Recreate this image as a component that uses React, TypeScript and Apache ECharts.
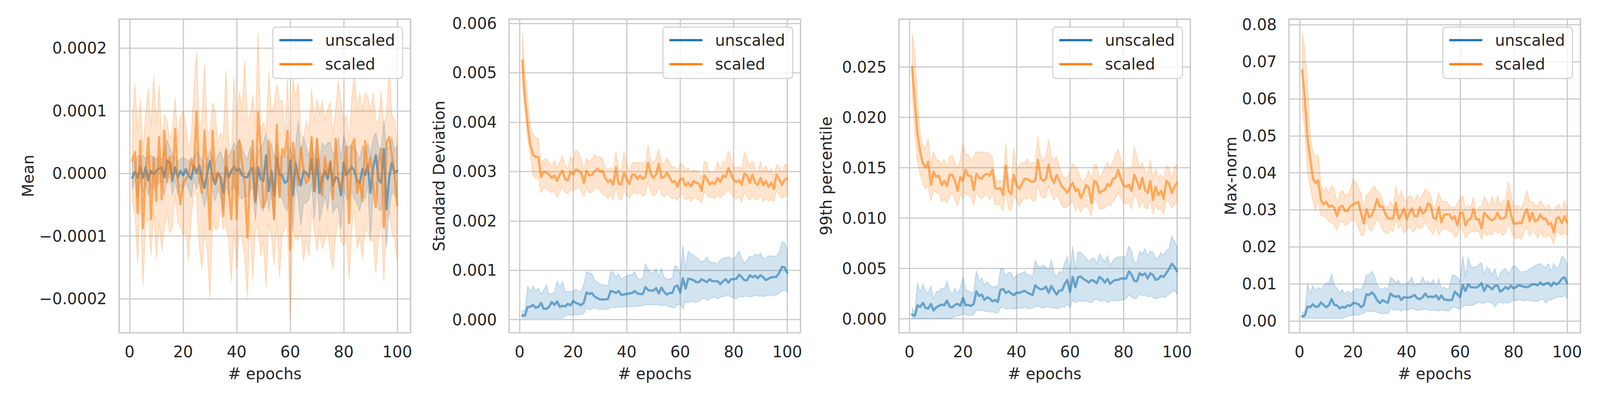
import React, { useEffect, useRef } from "react";
import * as echarts from "echarts";

// ---------- data (x = epoch 1..100) ----------
const epochs: number[] = Array.from({ length: 100 }, (_, i) => i + 1);

// Panel 1: Mean (values in 1e-6)
const meanUnscaledAvg = [
  -7, 3, -7, 10, -7, 10, -11, 4, -1, 4,
  8, 9, -6, 21, 17, -12, 10, -6, 4, -3,
  7, -3, -9, 13, 1, 13, -9, -23, 1, 20,
  -6, -17, 1, -6, -31, 10, -6, 4, 10, 4,
  8, -3, -6, -6, 4, 9, -44, 10, -9, -12,
  29, -28, 4, -35, 26, -3, -3, -15, -12, 21,
  -35, 17, -3, -19, 4, 1, -6, 23, -28, 23,
  -31, -6, 4, -9, 17, -19, -6, -9, -35, 17,
  -3, 4, 10, 4, -12, -15, 7, -3, 13, -31,
  10, 29, -9, -15, 39, -57, -6, 17, 1, 4,
];
const meanUnscaledHi = [
  23, 17, 29, 26, 29, 23, 26, 29, 23, 23,
  26, 23, 36, 53, 42, 29, 26, 17, 23, 26,
  23, 20, 17, 26, 36, 29, 23, 10, 23, 36,
  23, 17, 29, 36, 17, 42, 26, 36, 49, 42,
  55, 42, 29, 23, 42, 36, 1, 36, 42, 49,
  65, 29, 49, 23, 49, 29, 26, 29, 26, 42,
  23, 42, 85, 29, 58, 42, 29, 52, 23, 55,
  17, 49, 42, 49, 49, 29, 39, 58, 23, 61,
  45, 42, 45, 42, 33, 23, 45, 29, 49, 29,
  55, 65, 42, 39, 84, 39, 42, 58, 36, 45,
];
const meanUnscaledLo = [
  -25, -9, -41, -9, -31, -15, -35, -19, -25, -19,
  -15, -12, -35, -9, -6, -35, -12, -35, -19, -25,
  -15, -25, -38, -9, -25, -9, -35, -54, -28, -6,
  -31, -44, -25, -38, -60, -19, -35, -25, -22, -28,
  -35, -41, -35, -38, -28, -22, -76, -19, -54, -60,
  -9, -60, -31, -73, -9, -35, -41, -54, -60, -19,
  -92, -15, -41, -83, -47, -47, -41, -15, -73, -12,
  -76, -54, -35, -60, -19, -63, -54, -54, -89, -22,
  -41, -41, -28, -41, -47, -60, -35, -41, -19, -105,
  -35, -15, -57, -60, -19, -118, -60, -28, -35, -41,
];
const meanScaledAvg = [
  21, 34, -63, 52, -87, 1, 57, -73, 26, -44,
  58, -41, 68, -14, 26, -9, 71, -12, -49, -15,
  -9, -3, 23, 4, 98, -7, -31, 68, -3, -89,
  68, -15, 1, -9, -68, 36, -25, -73, 36, -73,
  52, 17, -15, -102, -3, 52, -47, 97, 39, -54,
  -41, 52, -15, -73, 77, -38, 39, 29, 68, -121,
  49, 13, -19, 42, 4, -15, -9, 58, -28, 55,
  4, -35, 26, -3, 20, -41, 55, -12, -25, -3,
  42, -79, 45, 55, -31, -12, -44, 52, 4, 26,
  -19, -54, 17, 39, -86, 49, 58, 29, -3, -51,
];
const meanScaledHi = [
  90, 143, 68, 119, 36, 97, 135, 74, 156, 81,
  142, 55, 94, 84, 55, 68, 122, 52, 90, 100,
  77, 39, 58, 135, 194, 73, 87, 174, 68, 65,
  113, 97, 49, 65, 55, 164, 55, 23, 154, 84,
  130, 103, 180, 84, 90, 126, 74, 225, 71, 81,
  65, 164, 97, 110, 142, 116, 117, 61, 154, 23,
  153, 122, 145, 61, 58, 84, 68, 135, 81, 119,
  94, 116, 84, 103, 113, 61, 103, 148, 113, 84,
  94, 55, 119, 164, 97, 129, 100, 129, 122, 100,
  129, 84, 81, 132, 74, 94, 167, 94, 87, 45,
];
const meanScaledLo = [
  -44, -67, -143, -41, -179, -79, -73, -131, -57, -137,
  -79, -124, -89, -60, -95, -86, -35, -79, -83, -99,
  -92, -140, -73, -28, -35, -115, -153, -92, -121, -201,
  -76, -89, -89, -54, -89, -83, -105, -172, -89, -153,
  -89, -105, -131, -198, -76, -169, -89, -89, -131, -108,
  -182, -79, -99, -147, -76, -166, -99, -86, -86, -233,
  -89, -105, -105, -92, -140, -108, -131, -60, -89, -124,
  -92, -121, -105, -89, -131, -153, -99, -73, -108, -115,
  -99, -169, -89, -57, -121, -102, -137, -89, -92, -108,
  -105, -159, -108, -73, -172, -73, -60, -95, -105, -140,
];

// Panel 2: Standard Deviation (values in 1e-3)
const stdUnscaledAvg = [
  0.085, 0.085, 0.26, 0.26, 0.30, 0.24, 0.26, 0.34, 0.22, 0.22,
  0.26, 0.36, 0.30, 0.37, 0.26, 0.28, 0.27, 0.32, 0.29, 0.38,
  0.34, 0.32, 0.29, 0.35, 0.55, 0.52, 0.54, 0.47, 0.44, 0.41,
  0.41, 0.41, 0.42, 0.58, 0.57, 0.54, 0.58, 0.50, 0.51, 0.52,
  0.53, 0.54, 0.58, 0.53, 0.52, 0.52, 0.66, 0.60, 0.59, 0.59,
  0.64, 0.53, 0.65, 0.56, 0.51, 0.54, 0.54, 0.67, 0.69, 0.55,
  0.84, 0.63, 0.83, 0.82, 0.80, 0.76, 0.76, 0.82, 0.79, 0.76,
  0.82, 0.78, 0.78, 0.78, 0.72, 0.78, 0.82, 0.75, 0.82, 0.82,
  0.83, 0.91, 0.86, 0.80, 0.80, 0.90, 0.86, 0.89, 0.84, 0.90,
  0.86, 0.80, 0.83, 0.86, 0.86, 0.87, 0.95, 1.07, 1.06, 0.95,
];
const stdUnscaledHi = [
  0.19, 0.17, 0.68, 0.56, 0.68, 0.58, 0.64, 0.52, 0.60, 0.71,
  0.52, 0.53, 0.55, 0.78, 0.66, 0.78, 0.57, 0.57, 0.57, 0.58,
  0.62, 0.57, 0.57, 0.73, 0.97, 0.95, 0.93, 0.80, 0.76, 0.72,
  0.70, 0.70, 0.69, 0.97, 0.96, 0.86, 0.93, 0.82, 0.86, 0.88,
  0.91, 0.91, 0.97, 0.84, 0.82, 0.84, 1.13, 1.03, 0.95, 0.95,
  1.03, 0.86, 1.05, 0.86, 0.82, 0.82, 0.84, 1.09, 1.07, 0.91,
  1.49, 1.03, 1.39, 1.33, 1.31, 1.27, 1.22, 1.17, 1.20, 1.27,
  1.17, 1.16, 1.15, 1.13, 1.21, 1.25, 1.26, 1.27, 1.25, 1.23,
  1.30, 1.39, 1.23, 1.15, 1.20, 1.29, 1.27, 1.33, 1.29, 1.35,
  1.23, 1.25, 1.29, 1.29, 1.28, 1.29, 1.37, 1.58, 1.56, 1.40,
];
const stdUnscaledLo = [
  0.03, 0.03, 0.03, 0.03, 0.03, 0.03, 0.03, 0.03, 0.03, 0.03,
  0.03, 0.03, 0.03, 0.03, 0.03, 0.03, 0.07, 0.10, 0.09, 0.10,
  0.10, 0.10, 0.11, 0.13, 0.24, 0.20, 0.22, 0.24, 0.22, 0.21,
  0.21, 0.21, 0.21, 0.25, 0.24, 0.25, 0.26, 0.25, 0.26, 0.26,
  0.27, 0.26, 0.27, 0.28, 0.27, 0.29, 0.30, 0.31, 0.30, 0.30,
  0.31, 0.30, 0.28, 0.30, 0.28, 0.26, 0.24, 0.24, 0.30, 0.32,
  0.22, 0.37, 0.34, 0.38, 0.36, 0.36, 0.37, 0.42, 0.44, 0.39,
  0.42, 0.44, 0.46, 0.42, 0.45, 0.47, 0.48, 0.50, 0.46, 0.44,
  0.42, 0.47, 0.46, 0.47, 0.48, 0.46, 0.47, 0.50, 0.48, 0.48,
  0.47, 0.48, 0.50, 0.48, 0.50, 0.50, 0.54, 0.58, 0.60, 0.56,
];
const stdScaledAvg = [
  5.25, 4.48, 3.95, 3.54, 3.34, 3.30, 3.29, 2.89, 3.00, 2.98,
  2.94, 2.87, 2.92, 2.81, 2.94, 3.02, 2.85, 2.82, 3.00, 2.94,
  3.04, 3.02, 2.98, 2.77, 3.02, 2.92, 2.93, 3.00, 3.06, 3.00,
  3.02, 2.87, 2.79, 2.83, 2.73, 3.08, 2.75, 2.74, 2.98, 2.85,
  2.75, 2.94, 2.94, 2.85, 2.92, 2.85, 2.89, 3.18, 2.96, 2.87,
  2.94, 3.16, 2.87, 2.89, 2.98, 2.89, 2.79, 2.81, 2.69, 2.85,
  2.86, 2.71, 2.78, 2.70, 2.81, 2.77, 2.75, 2.61, 2.92, 2.85,
  2.74, 2.78, 2.75, 2.87, 2.79, 2.92, 2.89, 3.07, 2.96, 2.82,
  2.79, 2.82, 2.73, 2.96, 2.92, 2.77, 2.94, 2.77, 2.73, 2.87,
  2.72, 2.81, 2.69, 2.77, 2.65, 2.94, 2.85, 2.73, 2.83, 2.86,
];
const stdScaledHi = [
  5.80, 5.05, 4.48, 3.91, 3.75, 3.69, 3.67, 3.14, 3.24, 3.26,
  3.18, 3.10, 3.24, 3.07, 3.19, 3.32, 3.14, 3.05, 3.31, 3.22,
  3.44, 3.38, 3.26, 3.04, 3.28, 3.18, 3.26, 3.35, 3.30, 3.30,
  3.26, 3.08, 3.04, 3.08, 3.02, 3.40, 3.07, 3.00, 3.40, 3.16,
  3.02, 3.18, 3.18, 3.19, 3.18, 3.17, 3.18, 3.54, 3.22, 3.18,
  3.26, 3.46, 3.20, 3.14, 3.28, 3.18, 3.08, 3.10, 3.00, 3.16,
  3.14, 3.02, 3.08, 2.98, 3.04, 3.02, 3.01, 2.85, 3.21, 3.18,
  2.98, 3.00, 2.98, 3.21, 3.05, 3.20, 3.20, 3.42, 3.26, 3.08,
  3.08, 3.10, 3.04, 3.39, 3.26, 3.12, 3.21, 3.08, 2.98, 3.20,
  2.98, 3.12, 2.98, 3.06, 2.92, 3.14, 3.10, 2.96, 3.14, 3.16,
];
const stdScaledLo = [
  4.76, 4.28, 3.67, 3.34, 2.94, 2.85, 2.89, 2.57, 2.67, 2.65,
  2.61, 2.57, 2.61, 2.47, 2.59, 2.69, 2.57, 2.55, 2.65, 2.61,
  2.65, 2.67, 2.61, 2.49, 2.67, 2.58, 2.57, 2.65, 2.67, 2.63,
  2.53, 2.51, 2.45, 2.53, 2.43, 2.69, 2.45, 2.43, 2.61, 2.53,
  2.45, 2.57, 2.57, 2.53, 2.59, 2.49, 2.53, 2.79, 2.59, 2.51,
  2.55, 2.69, 2.53, 2.49, 2.55, 2.51, 2.45, 2.47, 2.41, 2.53,
  2.55, 2.41, 2.47, 2.40, 2.47, 2.45, 2.43, 2.35, 2.59, 2.53,
  2.47, 2.49, 2.45, 2.53, 2.47, 2.51, 2.57, 2.65, 2.55, 2.47,
  2.45, 2.49, 2.37, 2.59, 2.49, 2.41, 2.51, 2.43, 2.43, 2.53,
  2.39, 2.45, 2.41, 2.43, 2.39, 2.61, 2.53, 2.45, 2.49, 2.51,
];

// Panel 3: 99th percentile (values in 1e-3)
const p99UnscaledAvg = [
  0.44, 0.30, 1.35, 1.19, 1.59, 1.09, 1.03, 1.49, 0.83, 1.15,
  1.29, 1.43, 1.35, 1.83, 1.23, 1.15, 1.39, 1.49, 1.29, 2.08,
  1.35, 1.39, 1.29, 1.49, 2.74, 2.28, 2.42, 1.88, 2.14, 2.02,
  1.75, 1.88, 1.69, 2.88, 2.98, 2.58, 2.74, 2.54, 2.34, 2.62,
  2.58, 2.68, 2.78, 2.62, 2.48, 2.38, 3.33, 3.08, 2.94, 2.98,
  3.21, 2.58, 3.27, 2.82, 2.42, 2.82, 2.82, 3.47, 3.87, 2.68,
  4.17, 3.13, 4.13, 4.21, 3.97, 3.81, 3.61, 3.87, 3.77, 3.53,
  4.17, 3.97, 3.61, 3.97, 3.47, 3.73, 3.87, 3.87, 4.01, 4.01,
  4.01, 4.72, 4.40, 3.77, 3.73, 4.52, 4.33, 4.52, 4.01, 4.52,
  4.37, 3.87, 3.97, 4.27, 4.17, 4.56, 4.96, 5.46, 5.20, 4.72,
];
const p99UnscaledHi = [
  1.09, 0.60, 3.57, 2.62, 3.47, 2.78, 2.58, 3.27, 1.98, 2.68,
  2.74, 3.08, 2.98, 3.77, 2.78, 2.42, 3.08, 2.54, 3.08, 4.17,
  2.88, 2.78, 2.54, 2.68, 4.76, 3.77, 4.07, 3.37, 3.67, 3.37,
  3.13, 3.27, 3.17, 4.96, 5.00, 4.27, 4.60, 4.60, 3.97, 4.33,
  4.46, 4.52, 4.72, 4.33, 4.40, 4.07, 5.85, 5.26, 5.16, 5.36,
  5.16, 4.76, 5.85, 4.60, 4.17, 4.72, 4.60, 5.52, 6.19, 4.56,
  7.18, 4.86, 6.65, 6.59, 6.31, 6.05, 5.65, 5.99, 6.05, 5.46,
  6.45, 6.05, 5.65, 6.31, 5.32, 5.75, 6.05, 6.15, 6.15, 6.15,
  6.25, 7.24, 6.75, 5.60, 5.56, 6.71, 6.45, 6.98, 6.25, 6.75,
  6.65, 5.95, 6.11, 6.59, 6.25, 6.79, 6.94, 8.23, 7.74, 7.14,
];
const p99UnscaledLo = [
  0.10, 0.04, 0.04, 0.04, 0.04, 0.04, 0.04, 0.04, 0.04, 0.04,
  0.04, 0.04, 0.04, 0.04, 0.04, 0.10, 0.24, 0.30, 0.36, 0.50,
  0.44, 0.30, 0.36, 0.44, 0.89, 0.79, 0.89, 0.75, 0.79, 0.69,
  0.69, 0.63, 0.60, 1.09, 1.19, 0.99, 1.03, 1.03, 0.95, 1.09,
  1.09, 1.03, 1.19, 1.03, 1.03, 1.09, 1.19, 1.29, 1.15, 1.09,
  1.19, 1.19, 1.09, 1.09, 1.03, 1.09, 1.19, 1.19, 1.49, 1.09,
  1.88, 1.59, 1.79, 1.79, 1.75, 1.75, 1.69, 1.59, 1.88, 1.98,
  1.79, 1.79, 1.88, 1.59, 1.79, 1.83, 1.79, 1.83, 1.88, 1.88,
  2.02, 2.38, 2.18, 1.98, 2.08, 2.48, 2.28, 2.38, 2.18, 2.28,
  2.14, 1.98, 2.08, 2.18, 2.14, 2.22, 2.42, 2.68, 2.88, 2.42,
];
const p99ScaledAvg = [
  25.0, 21.6, 18.3, 16.6, 15.5, 15.0, 15.6, 13.3, 14.6, 14.1,
  14.2, 13.3, 13.7, 13.2, 14.3, 14.3, 13.7, 12.7, 14.1, 13.7,
  14.8, 14.2, 14.2, 12.8, 14.4, 14.0, 13.9, 14.3, 14.4, 14.2,
  14.8, 13.0, 12.9, 13.0, 12.3, 15.2, 12.7, 12.4, 14.3, 13.3,
  12.9, 13.4, 13.9, 13.9, 13.7, 13.6, 13.7, 15.8, 14.0, 13.7,
  13.9, 15.3, 14.0, 13.5, 14.3, 13.7, 13.1, 12.9, 12.5, 13.1,
  13.5, 12.7, 12.9, 12.0, 12.5, 13.3, 13.0, 11.5, 13.7, 13.5,
  12.5, 12.7, 12.8, 13.4, 13.2, 13.9, 14.0, 14.8, 13.9, 13.3,
  13.1, 13.3, 12.7, 14.3, 13.7, 12.9, 14.0, 12.8, 12.5, 13.7,
  11.8, 13.1, 12.3, 12.7, 11.9, 13.7, 13.4, 12.5, 13.1, 13.5,
];
const p99ScaledHi = [
  28.3, 26.4, 22.0, 18.3, 17.2, 16.9, 17.9, 15.3, 16.6, 15.9,
  15.7, 15.4, 15.8, 15.0, 16.1, 16.2, 15.5, 14.9, 15.8, 17.4,
  16.3, 16.3, 15.7, 16.1, 16.6, 16.5, 16.6, 16.5, 16.5, 16.4,
  16.0, 13.9, 13.7, 13.8, 13.6, 17.4, 14.0, 13.7, 17.0, 14.7,
  15.2, 15.5, 15.5, 15.9, 15.4, 15.5, 15.5, 18.1, 16.1, 15.7,
  16.1, 17.8, 16.1, 15.8, 16.1, 15.1, 14.4, 13.9, 14.1, 14.7,
  15.4, 15.1, 14.7, 13.9, 13.6, 14.1, 14.7, 13.7, 15.3, 15.3,
  13.9, 14.5, 15.0, 15.6, 14.9, 15.6, 16.3, 16.8, 15.9, 15.1,
  14.8, 15.1, 14.7, 17.1, 16.1, 14.9, 15.6, 14.6, 14.4, 15.8,
  13.9, 14.9, 14.1, 14.3, 13.9, 15.2, 15.0, 13.9, 15.1, 15.3,
];
const p99ScaledLo = [
  22.5, 18.5, 15.5, 14.3, 13.5, 12.9, 13.2, 11.7, 12.8, 12.5,
  12.5, 11.6, 11.9, 11.5, 12.2, 12.5, 11.8, 11.2, 12.4, 11.9,
  12.5, 12.2, 12.2, 11.2, 12.5, 12.1, 11.9, 12.3, 12.3, 11.8,
  12.4, 11.4, 11.3, 11.3, 10.7, 12.7, 10.9, 10.8, 12.3, 11.8,
  11.2, 11.6, 12.0, 11.9, 12.1, 11.7, 11.7, 13.4, 12.2, 12.0,
  12.1, 13.2, 12.3, 11.8, 12.3, 11.8, 11.2, 11.0, 11.1, 11.4,
  11.8, 10.7, 11.2, 10.6, 11.0, 11.3, 10.9, 10.2, 11.9, 11.7,
  10.9, 10.9, 11.0, 11.4, 11.2, 11.7, 12.0, 12.5, 12.0, 11.5,
  11.4, 11.5, 10.9, 12.3, 11.9, 11.0, 11.9, 11.0, 10.9, 11.7,
  10.4, 11.3, 10.8, 11.0, 10.4, 11.8, 11.6, 11.0, 11.3, 11.7,
];

// Panel 4: Max-norm (values in 1e-3)
const maxUnscaledAvg = [
  1.2, 1.5, 3.9, 3.7, 4.5, 3.8, 3.9, 5.0, 4.3, 3.7,
  4.3, 5.9, 4.3, 4.2, 3.4, 3.8, 3.6, 4.2, 4.1, 4.8,
  4.8, 4.5, 3.7, 4.3, 7.2, 7.0, 7.7, 7.0, 5.6, 4.8,
  5.6, 5.2, 4.9, 7.4, 6.8, 6.5, 6.8, 5.7, 6.4, 6.3,
  6.3, 6.6, 7.0, 6.1, 5.9, 6.4, 7.4, 6.4, 6.6, 6.4,
  6.9, 5.8, 6.9, 5.8, 5.7, 5.6, 5.7, 7.9, 7.2, 6.4,
  9.7, 8.1, 9.9, 9.1, 9.1, 9.0, 9.4, 10.2, 8.1, 9.6,
  9.2, 8.5, 9.5, 9.6, 7.9, 8.4, 9.2, 8.6, 9.5, 8.8,
  9.2, 9.7, 9.4, 9.2, 9.1, 9.4, 9.9, 9.9, 9.6, 10.4,
  9.7, 10.1, 10.3, 9.4, 10.4, 9.9, 10.3, 11.4, 11.8, 10.2,
];
const maxUnscaledHi = [
  2.3, 2.6, 10.1, 7.4, 9.5, 8.0, 9.1, 8.3, 9.6, 10.2,
  10.3, 12.8, 9.6, 8.8, 7.5, 8.5, 7.2, 8.1, 7.4, 8.0,
  8.8, 8.6, 8.5, 9.9, 12.4, 12.4, 13.4, 12.1, 9.6, 8.8,
  8.5, 9.1, 8.4, 11.8, 11.2, 10.3, 11.0, 9.4, 9.9, 10.1,
  10.7, 11.8, 9.4, 10.2, 9.9, 11.9, 10.2, 10.8, 9.9, 11.2,
  9.1, 11.4, 8.8, 9.1, 8.5, 9.1, 12.3, 12.3, 11.8, 10.7,
  17.7, 11.8, 17.2, 14.8, 14.5, 14.6, 15.3, 15.7, 12.6, 14.5,
  13.9, 12.4, 14.2, 11.2, 12.9, 13.7, 14.2, 12.9, 13.7, 15.0,
  14.5, 13.7, 13.1, 13.4, 13.4, 14.1, 14.5, 14.9, 15.3, 15.5,
  14.8, 14.5, 15.5, 13.5, 15.5, 14.2, 14.8, 17.5, 16.9, 15.3,
];
const maxUnscaledLo = [
  0.7, 0.7, 0.7, 0.7, 0.7, 0.7, 0.7, 0.7, 0.7, 0.7,
  0.7, 0.7, 0.7, 0.7, 0.7, 0.7, 1.0, 1.2, 1.5, 1.6,
  1.6, 1.6, 1.8, 2.1, 2.7, 2.6, 2.5, 2.6, 2.3, 2.1,
  1.9, 2.1, 1.9, 3.4, 3.1, 2.9, 3.1, 2.6, 3.1, 2.9,
  3.1, 3.4, 3.1, 2.9, 2.9, 3.1, 3.2, 3.0, 2.9, 2.9,
  2.9, 2.7, 2.9, 2.9, 2.7, 2.7, 3.7, 3.7, 3.4, 3.1,
  3.9, 4.2, 4.1, 4.2, 4.3, 4.8, 5.0, 4.8, 4.8, 5.2,
  5.0, 4.8, 3.8, 4.8, 5.2, 4.8, 5.0, 4.8, 5.3, 5.6,
  5.4, 5.8, 5.6, 5.4, 5.6, 5.6, 5.3, 5.4, 5.2, 5.8,
  5.9, 4.8, 5.6, 5.7, 6.1, 6.3, 6.6, 6.4, 6.9, 6.1,
];
const maxScaledAvg = [
  67.7, 59.9, 49.1, 43.7, 38.5, 37.2, 38.0, 32.6, 31.5, 32.2,
  30.8, 31.2, 30.6, 28.3, 30.7, 31.1, 29.7, 29.7, 31.0, 31.4,
  31.9, 32.1, 29.1, 26.3, 30.2, 28.0, 28.6, 30.4, 32.9, 30.8,
  31.0, 29.1, 27.7, 27.6, 27.7, 31.9, 27.5, 28.6, 30.4, 27.4,
  29.1, 30.4, 28.3, 28.3, 30.7, 29.0, 29.6, 31.7, 31.2, 27.9,
  27.5, 30.7, 26.6, 28.6, 28.8, 28.8, 27.5, 28.3, 25.8, 29.2,
  29.2, 25.8, 27.2, 27.6, 30.2, 27.4, 27.5, 25.0, 29.2, 28.5,
  27.5, 27.2, 27.7, 29.2, 27.6, 27.7, 28.0, 32.4, 28.8, 26.3,
  26.3, 26.5, 26.4, 28.8, 30.2, 26.9, 29.2, 26.9, 27.2, 28.8,
  27.5, 27.7, 26.1, 26.4, 23.9, 27.7, 28.0, 26.4, 28.3, 26.6,
];
const maxScaledHi = [
  77.6, 73.4, 63.7, 50.2, 45.6, 44.2, 44.8, 36.4, 35.0, 36.2,
  34.5, 36.6, 35.6, 31.5, 34.5, 35.3, 33.9, 34.4, 35.5, 38.3,
  37.5, 36.0, 34.5, 30.7, 33.9, 34.5, 35.8, 36.5, 35.0, 34.6,
  32.9, 30.7, 30.7, 32.3, 30.8, 36.5, 32.9, 35.3, 32.9, 32.3,
  33.9, 33.4, 32.1, 34.1, 32.6, 34.1, 35.5, 35.0, 34.0, 30.4,
  31.5, 34.8, 32.3, 32.3, 32.3, 31.0, 30.7, 30.5, 31.9, 33.1,
  33.8, 30.2, 31.4, 30.7, 33.5, 29.2, 30.7, 31.0, 33.7, 32.2,
  31.0, 33.7, 30.7, 33.9, 31.2, 32.6, 32.3, 37.6, 34.5, 31.0,
  31.2, 31.0, 30.3, 32.9, 35.3, 32.1, 32.3, 31.2, 31.0, 32.6,
  31.2, 30.4, 31.5, 29.7, 29.6, 31.1, 31.5, 29.2, 32.6, 30.7,
];
const maxScaledLo = [
  57.2, 51.2, 39.9, 36.1, 32.3, 29.9, 32.6, 28.5, 28.3, 28.0,
  26.9, 26.4, 26.1, 24.5, 26.8, 26.9, 25.8, 26.1, 26.9, 27.5,
  26.8, 25.3, 23.1, 23.0, 27.2, 24.8, 24.2, 25.8, 27.5, 26.6,
  24.5, 23.9, 23.4, 24.8, 24.0, 27.5, 25.0, 25.8, 23.7, 24.8,
  25.3, 24.2, 24.2, 25.8, 24.8, 25.3, 26.9, 25.3, 24.2, 23.4,
  25.8, 23.1, 24.5, 24.8, 25.0, 24.2, 24.2, 22.6, 23.0, 25.8,
  24.5, 22.3, 23.7, 23.9, 24.2, 24.2, 24.0, 22.0, 24.2, 23.1,
  23.7, 23.1, 24.8, 23.7, 24.1, 23.1, 23.7, 26.4, 24.8, 22.6,
  22.3, 22.6, 22.1, 24.5, 25.3, 22.9, 24.2, 23.7, 22.3, 24.2,
  22.9, 22.6, 23.1, 22.6, 20.7, 24.2, 23.7, 23.1, 23.9, 23.1,
];

const seriesNames = ["unscaled", "scaled"];
const xTickLabels = ["0", "20", "40", "60", "80", "100"];

// ---------- styling / layout (in reference pixels, scaled to the viewport) ----------
const FONT = "'DejaVu Sans', 'Liberation Sans', sans-serif";
const TEXT = "#262626";
const GRID_C = "#cccccc";
const COLORS = ["#1f77b4", "#ff7f0e"];
const BAND_FILL = ["rgba(31,119,180,0.2)", "rgba(255,127,14,0.2)"];
const GRID_LEFTS = [312.5, 1336.3, 2359.6, 3383.5];
const GRID_TOP = 50;
const GRID_W = 765;
const GRID_H = 824;
const FS = 41;

type Band = { avg: number[]; lo: number[]; hi: number[] };
type Panel = {
  yName: string;
  unit: number;
  yMin: number;
  yMax: number;
  split: number;
  decimals: number;
  nameGap: number;
  data: Band[];
};

const panels: Panel[] = [
  {
    yName: "Mean", unit: 1e-6, yMin: -0.0002544, yMax: 0.0002465, split: 5, decimals: 4, nameGap: 218,
    data: [
      { avg: meanUnscaledAvg, lo: meanUnscaledLo, hi: meanUnscaledHi },
      { avg: meanScaledAvg, lo: meanScaledLo, hi: meanScaledHi },
    ],
  },
  {
    yName: "Standard Deviation", unit: 1e-3, yMin: -0.000266, yMax: 0.006089, split: 6, decimals: 3, nameGap: 163,
    data: [
      { avg: stdUnscaledAvg, lo: stdUnscaledLo, hi: stdUnscaledHi },
      { avg: stdScaledAvg, lo: stdScaledLo, hi: stdScaledHi },
    ],
  },
  {
    yName: "99th percentile", unit: 1e-3, yMin: -0.00138, yMax: 0.02976, split: 6, decimals: 3, nameGap: 170,
    data: [
      { avg: p99UnscaledAvg, lo: p99UnscaledLo, hi: p99UnscaledHi },
      { avg: p99ScaledAvg, lo: p99ScaledLo, hi: p99ScaledHi },
    ],
  },
  {
    yName: "Max-norm", unit: 1e-3, yMin: -0.00321, yMax: 0.08153, split: 8, decimals: 2, nameGap: 132,
    data: [
      { avg: maxUnscaledAvg, lo: maxUnscaledLo, hi: maxUnscaledHi },
      { avg: maxScaledAvg, lo: maxScaledLo, hi: maxScaledHi },
    ],
  },
];

function fmtY(v: number, d: number): string {
  if (Math.abs(v) < 1e-12) return (0).toFixed(d);
  return (v < 0 ? "\u2212" : "") + Math.abs(v).toFixed(d);
}

function buildOption(s: number) {
  const grid: any[] = [];
  const xAxis: any[] = [];
  const yAxis: any[] = [];
  const legend: any[] = [];
  const series: any[] = [];
  const fs = FS * s;
  const W = 4200 * s;

  panels.forEach((p, i) => {
    grid.push({
      left: GRID_LEFTS[i] * s, top: GRID_TOP * s, width: GRID_W * s, height: GRID_H * s,
      show: true, borderColor: GRID_C, borderWidth: 3.4 * s, backgroundColor: "#ffffff",
      containLabel: false, outerBoundsMode: "none",
    });
    xAxis.push({
      type: "value", gridIndex: i, min: -3.95, max: 104.95, splitNumber: 5,
      name: "# epochs", nameLocation: "middle", nameGap: 87 * s,
      nameTextStyle: { fontSize: fs, color: TEXT, fontFamily: FONT },
      axisLine: { show: false }, axisTick: { show: false },
      axisLabel: {
        fontSize: fs, color: TEXT, fontFamily: FONT, margin: 29 * s,
        showMinLabel: false, showMaxLabel: false,
        formatter: (v: number) => {
          const r = Math.round(v);
          return Math.abs(v - r) < 1e-6 && xTickLabels.includes(String(r)) ? String(r) : "";
        },
      },
      splitLine: { show: true, lineStyle: { color: GRID_C, width: 3.3 * s } },
    });
    yAxis.push({
      type: "value", gridIndex: i, min: p.yMin, max: p.yMax, splitNumber: p.split,
      name: p.yName, nameLocation: "middle", nameGap: p.nameGap * s, nameRotate: 90,
      nameTextStyle: { fontSize: fs, color: TEXT, fontFamily: FONT },
      axisLine: { show: false }, axisTick: { show: false },
      axisLabel: {
        fontSize: fs, color: TEXT, fontFamily: FONT, margin: 32 * s,
        showMinLabel: false, showMaxLabel: false,
        formatter: (v: number) => fmtY(v, p.decimals),
      },
      splitLine: { show: true, lineStyle: { color: GRID_C, width: 3.3 * s } },
    });
    legend.push({
      data: seriesNames,
      orient: "vertical",
      right: W - (GRID_LEFTS[i] + GRID_W - 20.5) * s,
      top: 71 * s,
      itemWidth: 87 * s, itemHeight: 6 * s, itemGap: 22 * s,
      icon: "roundRect",
      padding: [14 * s, 20 * s, 17 * s, 17 * s],
      backgroundColor: "rgba(255,255,255,0.8)",
      borderColor: "rgba(204,204,204,0.85)", borderWidth: 3 * s, borderRadius: 9 * s,
      textStyle: { fontSize: fs, color: TEXT, fontFamily: FONT, lineHeight: 41 * s, padding: [0, 0, 0, 28 * s] },
      selectedMode: false,
    });

    p.data.forEach((b, k) => {
      const color = COLORS[k];
      const name = seriesNames[k];
      series.push({
        type: "custom", name: `${name} band`, xAxisIndex: i, yAxisIndex: i,
        silent: true, clip: true,
        data: [[epochs[0], b.lo[0] * p.unit]],
        renderItem: (_params: any, api: any) => {
          const upper = epochs.map((x, j) => api.coord([x, b.hi[j] * p.unit]));
          const lower = epochs.map((x, j) => api.coord([x, b.lo[j] * p.unit])).reverse();
          return {
            type: "polygon",
            shape: { points: upper.concat(lower) },
            style: { fill: BAND_FILL[k], stroke: BAND_FILL[k], lineWidth: 2.6 * s, lineJoin: "round" },
          };
        },
      });
      series.push({
        type: "line", name, xAxisIndex: i, yAxisIndex: i,
        symbol: "none", silent: true,
        itemStyle: { color },
        data: epochs.map((x, j) => [x, b.avg[j] * p.unit]),
        lineStyle: { color, width: 6 * s, opacity: 0.6, cap: "round", join: "round" },
      });
    });
  });

  return {
    animation: false,
    backgroundColor: "#ffffff",
    textStyle: { fontFamily: FONT },
    grid, xAxis, yAxis, legend, series,
  };
}

export default function App() {
  const ref = useRef<HTMLDivElement>(null);
  useEffect(() => {
    if (!ref.current) return;
    const w = window.innerWidth || 4200;
    const s = w / 4200;
    const chart = echarts.init(ref.current, undefined, { renderer: "svg" });
    chart.setOption(buildOption(s) as any);
    return () => chart.dispose();
  }, []);
  return (
    <div
      ref={ref}
      style={{ position: "fixed", left: 0, top: 0, width: "100vw", height: "100vh", background: "#fff" }}
    />
  );
}
